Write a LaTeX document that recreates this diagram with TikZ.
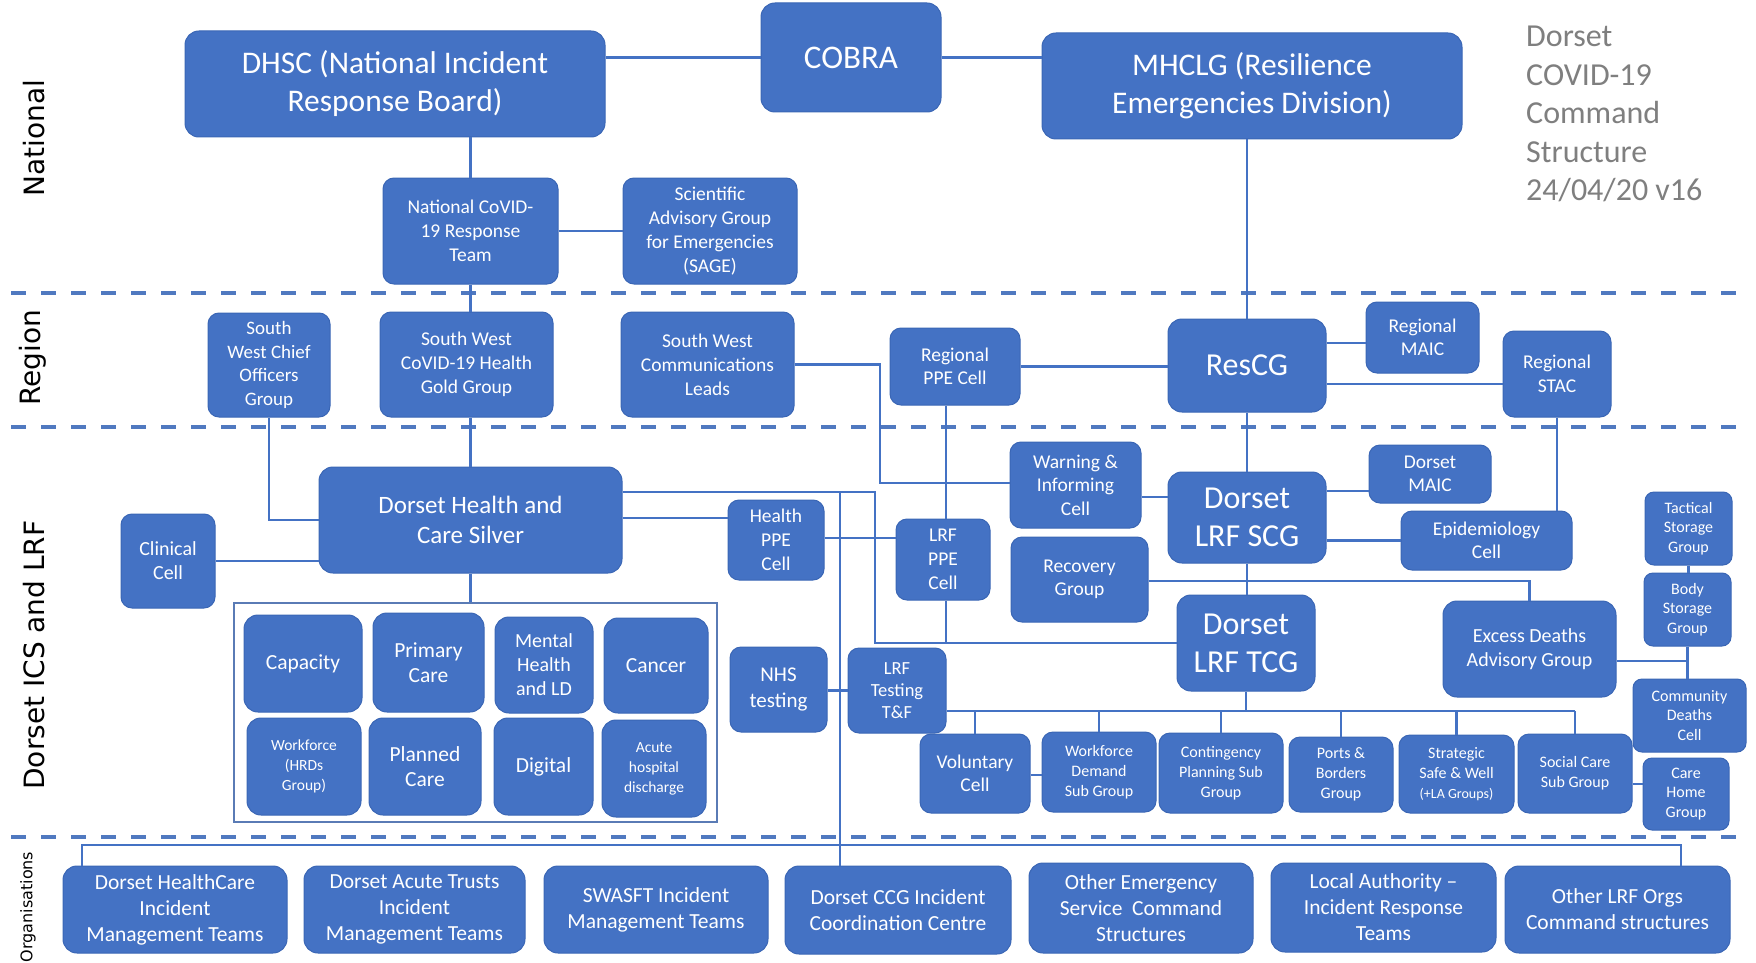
\documentclass[tikz,border=0pt]{standalone}
\usepackage{fontspec}
\setmainfont{Carlito}
\newfontfamily\labelfont{DejaVu Sans}
\newcommand\fsz[2]{\fontsize{#1}{#2}\selectfont}
\definecolor{boxblue}{HTML}{4472C4}
\definecolor{boxedge}{HTML}{3A66B5}
\definecolor{linkblue}{HTML}{4472C4}
\definecolor{dashblue}{HTML}{5079C0}
\definecolor{framecol}{HTML}{5A7BB5}
\definecolor{titlegray}{HTML}{7F7F7F}
\tikzset{
  bx/.style={draw=boxedge, line width=1pt, fill=boxblue, rounded corners=11pt, text=white, align=center, inner sep=0pt},
  big/.style={bx, rounded corners=14pt},
  sz/.style n args={2}{minimum width=#1, minimum height=#2},
  conn/.style={draw=linkblue, line width=2.3pt},
  dashline/.style={draw=dashblue, line width=3.5pt, dash pattern=on 15pt off 15pt},
  lab/.style={rotate=90, font=\labelfont\fsz{28}{34}, text=black, inner sep=0pt}
}
\begin{document}
\begin{tikzpicture}[x=1pt, y=-1pt]
\useasboundingbox (0,0) rectangle (1756,963);
\fill[white] (0,0) rectangle (1756,963);

% separators
\draw[dashline] (11,293) -- (1745,293);
\draw[dashline] (11,427) -- (1745,427);
\draw[dashline] (11,837) -- (1745,837);

% left labels
\node[lab] (lnat) at (34,138) {National};
\node[lab] (lreg) at (33,358) {Region};
\node[lab] (lics) at (34,655) {Dorset ICS and LRF};
\node[lab, font=\labelfont\fsz{16}{20}] (lorg) at (28,907) {Organisations};

% title
\node[anchor=north west, align=left, text=titlegray, font=\fsz{32}{38.5}, inner sep=0pt] (title) at (1526,26) {Dorset\\COVID-19\\Command\\Structure\\24/04/20 v16};

% national
\node[big, sz={180}{109}, font=\fsz{33}{40}] (cobra) at (851,57.5) {COBRA};
\node[big, sz={420}{106}, font=\fsz{31.5}{38}] (dhsc) at (395,84) {DHSC (National Incident\\Response Board)};
\node[big, sz={420}{106}, font=\fsz{31.5}{38}] (mhclg) at (1252,86) {MHCLG (Resilience\\Emergencies Division)};
\node[bx, sz={175}{106}, font=\fsz{19.5}{24}] (ncovid) at (470.5,231) {National CoVID-\\19 Response\\Team};
\node[bx, sz={174}{106}, font=\fsz{19.5}{24}] (sage) at (710,231) {Scientific\\Advisory Group\\for Emergencies\\(SAGE)};

% region
\node[bx, sz={122}{104}, font=\fsz{19}{23.5}] (swcoog) at (269,365) {South\\West Chief\\Officers\\Group};
\node[bx, sz={173}{105}, font=\fsz{19.5}{24}] (swgold) at (466.5,364.5) {South West\\CoVID-19 Health\\Gold Group};
\node[bx, sz={173}{105}, font=\fsz{19.5}{24}] (swcomms) at (707.5,364.5) {South West\\Communications\\Leads};
\node[bx, sz={130}{77}, font=\fsz{19.5}{23.5}] (regppe) at (955,366.5) {Regional\\PPE Cell};
\node[big, sz={158}{93}, font=\fsz{32}{38}] (rescg) at (1247,365.5) {ResCG};
\node[bx, sz={113}{71}, font=\fsz{19.5}{23.5}] (regmaic) at (1422.5,337.5) {Regional\\MAIC};
\node[bx, sz={108}{86}, font=\fsz{19.5}{23.5}] (regstac) at (1557,374) {Regional\\STAC};

% Dorset ICS and LRF
\node[big, sz={303}{106}, font=\fsz{25}{30}] (silver) at (470.5,520) {Dorset Health and\\Care Silver};
\node[bx, sz={94}{94}, font=\fsz{20}{24}] (clinical) at (168,561) {Clinical\\Cell};
\node[bx, sz={96}{80}, font=\fsz{19.5}{24}] (hppe) at (776,540) {Health\\PPE\\Cell};
\node[bx, sz={94}{81}, font=\fsz{19.5}{24}] (lrfppe) at (943,559.5) {LRF\\PPE\\Cell};
\node[bx, sz={131}{86}, font=\fsz{19.5}{23.5}] (wic) at (1075.5,485) {Warning \&\\Informing\\Cell};
\node[bx, sz={137}{85}, font=\fsz{19.5}{23.5}] (recovery) at (1079.5,579.5) {Recovery\\Group};
\node[big, sz={158}{91}, font=\fsz{32}{38}] (scg) at (1247,517.5) {Dorset\\LRF SCG};
\node[bx, sz={122}{58}, font=\fsz{19.5}{23.5}] (dmaic) at (1430,474) {Dorset\\MAIC};
\node[bx, sz={171}{59}, font=\fsz{19.5}{23.5}] (epi) at (1486.5,540.5) {Epidemiology\\Cell};
\node[bx, sz={87}{73}, font=\fsz{16}{19.5}, rounded corners=9pt] (tactical) at (1688.5,528.5) {Tactical\\Storage\\Group};
\node[bx, sz={87}{73}, font=\fsz{16}{19.5}, rounded corners=9pt] (body) at (1687.5,609.5) {Body\\Storage\\Group};
\node[bx, sz={113}{73}, font=\fsz{16}{19.5}, rounded corners=9pt] (community) at (1689.5,715.5) {Community\\Deaths\\Cell};
\node[bx, sz={86}{72}, font=\fsz{16}{19.5}, rounded corners=9pt] (carehome) at (1686,794) {Care\\Home\\Group};
\node[big, sz={173}{96}, font=\fsz{20}{24}] (excess) at (1529.5,649) {Excess Deaths\\Advisory Group};
\node[big, sz={138}{96}, font=\fsz{32}{38}] (tcg) at (1246,643) {Dorset\\LRF TCG};
\node[bx, sz={98}{85}, font=\fsz{18.5}{22}] (lrftest) at (897,690.5) {LRF\\Testing\\T\&F};
\node[bx, sz={97}{85}, font=\fsz{21}{26}] (nhstest) at (778.5,689.5) {NHS\\testing};
\node[bx, sz={110}{79}, font=\fsz{19.5}{23.5}] (voluntary) at (975,773.5) {Voluntary\\Cell};
\node[bx, sz={114}{80}, font=\fsz{16}{20}] (wfdemand) at (1099,772) {Workforce\\Demand\\Sub Group};
\node[bx, sz={124}{80}, font=\fsz{16}{20}] (contingency) at (1221,773) {Contingency\\Planning Sub\\Group};
\node[bx, sz={104}{75}, font=\fsz{16}{20}] (ports) at (1341,774.5) {Ports \&\\Borders\\Group};
\node[bx, sz={115}{78}, font=\fsz{16}{20}] (strategic) at (1456.5,774) {Strategic\\Safe \& Well\\{\fsz{14}{18}(+LA Groups)}};
\node[bx, sz={114}{79}, font=\fsz{16}{20}] (socialcare) at (1575,773.5) {Social Care\\Sub Group};

% ICS work streams
\node[draw=framecol, line width=1.2pt, sz={483}{219}, inner sep=0pt] (icsframe) at (475.5,712.5) {};
\node[big, sz={118}{97}, font=\fsz{21.5}{25}] (capacity) at (303,663.5) {Capacity};
\node[big, sz={111}{99}, font=\fsz{21.5}{25}] (primary) at (428.5,662.5) {Primary\\Care};
\node[big, sz={98}{96}, font=\fsz{20}{24}] (mental) at (544,665) {Mental\\Health\\and LD};
\node[big, sz={104}{95}, font=\fsz{21.5}{25}] (cancer) at (656,665.5) {Cancer};
\node[big, sz={114}{97}, font=\fsz{15.5}{20}] (workforce) at (304,766.5) {Workforce\\(HRDs\\Group)};
\node[big, sz={112}{97}, font=\fsz{21.5}{25}] (planned) at (425,766.5) {Planned\\Care};
\node[big, sz={99}{97}, font=\fsz{21.5}{25}] (digital) at (543.5,766.5) {Digital};
\node[big, sz={104}{97}, font=\fsz{15.5}{20}] (acute) at (654,768.5) {Acute\\hospital\\discharge};

% organisations
\node[big, sz={224}{87}, font=\fsz{21.5}{26}] (dhc) at (175,909.5) {Dorset HealthCare\\Incident\\Management Teams};
\node[big, sz={221}{87}, font=\fsz{21.5}{26}] (acutetr) at (414.5,909.5) {Dorset Acute Trusts\\Incident\\Management Teams};
\node[big, sz={224}{87}, font=\fsz{21.5}{26}] (swasft) at (656,909.5) {SWASFT Incident\\Management Teams};
\node[big, sz={226}{88}, font=\fsz{21.5}{26}] (ccg) at (898,910) {Dorset CCG Incident\\Coordination Centre};
\node[big, sz={224}{90}, font=\fsz{21.5}{26}] (otherem) at (1141,908) {Other Emergency\\Service\ \ Command\\Structures};
\node[big, sz={225}{89}, font=\fsz{21.5}{26}] (la) at (1383.5,907.5) {Local Authority --\\Incident Response\\Teams};
\node[big, sz={225}{87}, font=\fsz{21.5}{26}] (otherlrf) at (1617.5,909.5) {Other LRF Orgs\\Command structures};

% helper coordinates
\coordinate (jA) at (840,492);
\coordinate (jB) at (875,492);
\coordinate (yC) at (0,518);
\coordinate (yD) at (0,538);
\coordinate (xE) at (946,0);
\coordinate (xF) at (880,0);
\coordinate (yG) at (0,483);
\coordinate (yH) at (0,343);
\coordinate (yI) at (0,384);
\coordinate (yJ) at (0,497);
\coordinate (yK) at (0,491);
\coordinate (yL) at (0,581);
\coordinate (yM) at (0,661);
\coordinate (yN) at (0,784);
\coordinate (yO) at (0,775);
\coordinate (yP) at (0,711);
\coordinate (yQ) at (0,845);
\coordinate (xR) at (82,0);
\coordinate (xS) at (1681,0);

% connectors: national
\draw[conn] (cobra.west -| dhsc.east) -- (cobra.west);
\draw[conn] (cobra.east) -- (cobra.east -| mhclg.west);
\draw[conn] (ncovid.north) -- (ncovid.north |- dhsc.south);
\draw[conn] (ncovid.east) -- (ncovid.east -| sage.west);
\draw[conn] (ncovid.south) -- (ncovid.south |- swgold.north);
\draw[conn] (rescg.north) -- (rescg.north |- mhclg.south);

% region
\draw[conn] (silver.north) -- (silver.north |- swgold.south);
\draw[conn] (swcoog.south) |- (silver.west);
\draw[conn] (swcomms.east) -| (xF |- yG) -- (wic.west |- yG);
\draw[conn] (regppe.east) -- (regppe.east -| rescg.west);
\draw[conn] (rescg.east |- yH) -- (regmaic.west |- yH);
\draw[conn] (rescg.east |- yI) -- (regstac.west |- yI);
\draw[conn] (regstac.south) -- (regstac.south |- epi.north);
\draw[conn] (xE |- regppe.south) -- (xE |- lrfppe.north);
\draw[conn] (rescg.south) -- (rescg.south |- scg.north);

% ICS and LRF
\draw[conn] (silver.south) -- (silver.south |- icsframe.north);
\draw[conn] (clinical.east) -- (clinical.east -| silver.west);
\draw[conn] (jB -| silver.east) -- (jB) -- (jB |- tcg.west) -- (tcg.west);
\draw[conn] (jA) -- (jA |- ccg.north);
\draw[conn] (silver.east |- yC) -- (hppe.west |- yC);
\draw[conn] (hppe.east |- yD) -- (lrfppe.west |- yD);
\draw[conn] (xE |- lrfppe.south) -- (xE |- tcg.west);
\draw[conn] (wic.east |- yJ) -- (scg.west |- yJ);
\draw[conn] (scg.east |- yK) -- (dmaic.west |- yK);
\draw[conn] (epi.west -| scg.east) -- (epi.west);
\draw[conn] (recovery.east |- yL) -| (excess.north);
\draw[conn] (scg.south) -- (scg.south |- tcg.north);
\draw[conn] (tactical.south) -- (tactical.south |- body.north);
\draw[conn] (body.south) -- (body.south |- community.north);
\draw[conn] (excess.east |- yM) -- (body.south |- yM);
\draw[conn] (socialcare.east |- yN) -- (carehome.west |- yN);
\draw[conn] (voluntary.east |- yO) -- (wfdemand.west |- yO);
\draw[conn] (nhstest.east |- lrftest.west) -- (lrftest.west);
\draw[conn] (tcg.south) -- (tcg.south |- yP);
\draw[conn] (lrftest.east |- yP) -- (socialcare.north |- yP);
\foreach \n in {voluntary,wfdemand,contingency,ports,strategic,socialcare}
  \draw[conn] (\n.north |- yP) -- (\n.north);

% organisations bus
\draw[conn, line width=2pt] (xR |- dhc.north) -- (xR |- yQ) -- (xS |- yQ) -- (xS |- otherlrf.north);
\end{tikzpicture}
\end{document}
